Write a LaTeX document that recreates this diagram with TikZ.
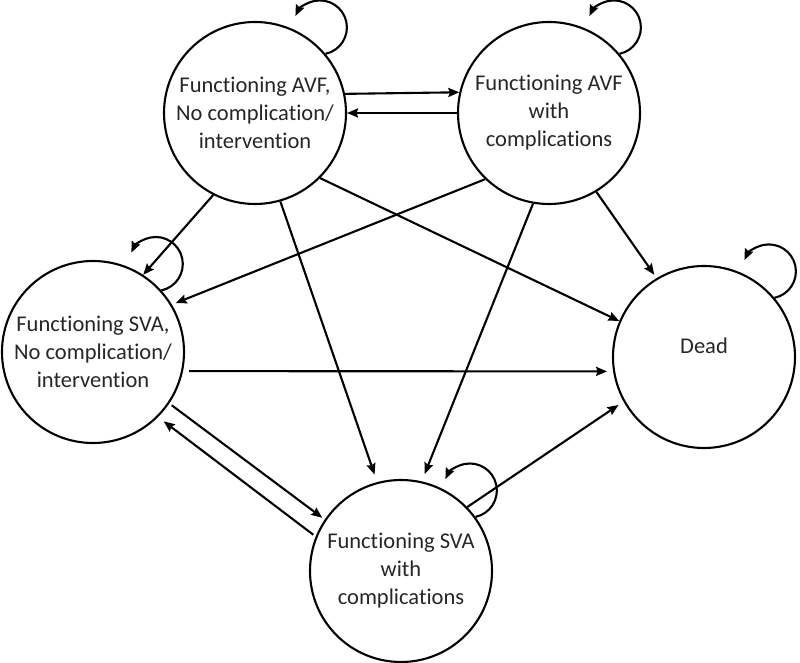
\documentclass[tikz,border=0pt]{standalone}
\usepackage{fontspec}
\setmainfont{Carlito}[Ligatures={NoCommon,NoRequired}, Contextuals={NoAlternate}]
\usetikzlibrary{arrows.meta}
\begin{document}
\begin{tikzpicture}[x=1pt,y=1pt,
  state/.style={circle, draw, line width=2.1pt, minimum size=182pt, inner sep=0pt, align=center,
    font=\fontsize{22.5}{28}\selectfont, text=black!85},
  arr/.style={line width=2.1pt, -{Stealth[length=11pt,width=9pt,inset=1.5pt]}},
  selfloop/.style={arr},
]
\useasboundingbox (0,0) rectangle (800,662);
\node[state] (A1) at (255,549) {Functioning AVF,\\No complication/\\intervention};
\node[state] (A2) at (549,549) {Functioning AVF\\with\\complications};
\node[state] (S1) at (93,310) {Functioning SVA,\\No complication/\\intervention};
\node[state] (D) at (704,305) {\raisebox{3.5pt}[0pt][0pt]{Dead}};
\node[state] (S2) at (401,91) {Functioning SVA\\with\\complications};

\draw[arr] (A1.12.7) -- (A2.167.3);
\draw[arr] (A2.180) -- (A1.0);
\draw[arr] (A1.243) -- (S1.57);
\draw[arr, shorten >=8pt] (A1.286) -- (S2.105);
\draw[arr] (A1.315) -- (D.157);
\draw[arr, shorten >=4pt] (A2.226) -- (S1.31);
\draw[arr, shorten >=8pt] (A2.260) -- (S2.77);
\draw[arr, shorten >=4pt] (A2.301) -- (D.121);
\draw[arr, shorten <=6pt, shorten >=6pt] (S1.-12.7) -- (D.189.5);
\draw[arr, shorten <=3pt, shorten >=3pt] (S1.-34) -- (S2.146);
\draw[arr, shorten <=3pt, shorten >=7pt] (S2.158) -- (S1.-45);
\draw[arr, shorten >=6pt] (S2.44) -- (D.209);

\draw[selfloop] (A1.40) arc[start angle=-78, end angle=155, radius=27pt];
\draw[selfloop] (A2.40) arc[start angle=-78, end angle=155, radius=27pt];
\draw[selfloop] (S1.42) arc[start angle=-78, end angle=155, radius=27pt];
\draw[selfloop] (D.40) arc[start angle=-78, end angle=155, radius=27pt];
\draw[selfloop] (S2.36) arc[start angle=-78, end angle=155, radius=27pt];
\end{tikzpicture}
\end{document}
